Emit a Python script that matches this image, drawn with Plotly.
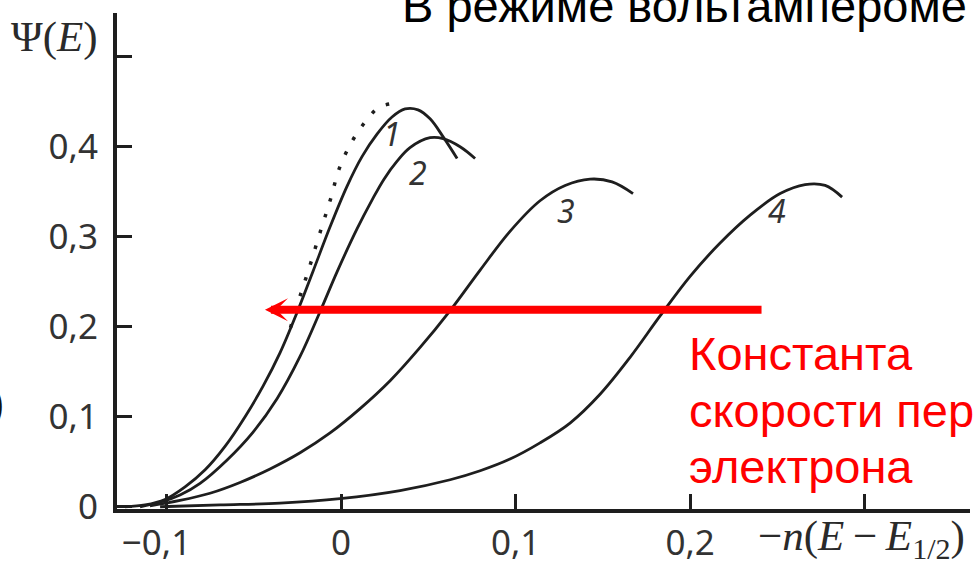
import plotly.graph_objects as go

# Ψ(E) against −n(E−E1/2) for four electron-transfer rate constants
x1 = [-0.1238, -0.1123, -0.1009, -0.0894, -0.0779, -0.0665, -0.0550, -0.0447, -0.0350,
      -0.0252, -0.0160, -0.0063, 0.0034, 0.0120, 0.0206, 0.0292, 0.0367, 0.0441, 0.0510,
      0.0585, 0.0665]
y1 = [0.000, 0.002, 0.008, 0.022, 0.041, 0.067, 0.100, 0.134, 0.171,
      0.216, 0.262, 0.311, 0.356, 0.389, 0.414, 0.433, 0.442, 0.441, 0.431,
      0.411, 0.387]

x2 = [-0.1152, -0.1037, -0.0923, -0.0808, -0.0653, -0.0504, -0.0367, -0.0235, -0.0120,
      -0.0023, 0.0092, 0.0178, 0.0246, 0.0321, 0.0395, 0.0510, 0.0585, 0.0682, 0.0768]
y2 = [0.000, 0.005, 0.013, 0.026, 0.052, 0.083, 0.120, 0.167, 0.217,
      0.261, 0.309, 0.341, 0.364, 0.384, 0.399, 0.410, 0.409, 0.400, 0.387]

x3 = [-0.1095, -0.0923, -0.0751, -0.0579, -0.0407, -0.0235, -0.0063, 0.0109, 0.0281,
      0.0453, 0.0625, 0.0797, 0.0968, 0.1140, 0.1284, 0.1427, 0.1553, 0.1673]
y3 = [0.001, 0.007, 0.015, 0.027, 0.042, 0.060, 0.082, 0.109, 0.140,
      0.177, 0.218, 0.263, 0.306, 0.340, 0.357, 0.364, 0.361, 0.348]

x4 = [-0.1037, -0.0693, -0.0350, -0.0006, 0.0338, 0.0625, 0.0797, 0.0968, 0.1140, 0.1312,
      0.1484, 0.1656, 0.1828, 0.2000, 0.2172, 0.2344, 0.2516, 0.2659, 0.2774, 0.2871]
y4 = [0.000, 0.002, 0.004, 0.009, 0.018, 0.030, 0.040, 0.053, 0.071, 0.093,
      0.125, 0.166, 0.212, 0.256, 0.293, 0.324, 0.348, 0.358, 0.357, 0.344]

# reversible limit (dotted)
x_rev = [-0.029, -0.024, -0.018, -0.012, -0.006, -0.001, 0.006, 0.014, 0.022, 0.034]
y_rev = [0.199, 0.231, 0.267, 0.305, 0.342, 0.376, 0.405, 0.428, 0.444, 0.449]

curve_names = ["1", "2", "3", "4"]
name_x = [0.029, 0.044, 0.129, 0.250]
name_y = [0.415, 0.371, 0.329, 0.329]

x_ticks = [-0.1, 0.0, 0.1, 0.2, 0.3]
x_tick_text = ["\u22120,1\u2007", "0", "0,1", "0,2", ""]
y_ticks = [0.0, 0.1, 0.2, 0.3, 0.4, 0.5]
y_tick_text = ["0", "0,1", "0,2", "0,3", "0,4", ""]

# red arrow along Ψ ≈ 0.22 pointing to lower potentials
arrow_tip = (-0.0436, 0.219)
arrow_tail = (0.2418, 0.219)

ink = "#1e1e1e"
red = "#ff0000"

fig = go.Figure()
for xs, ys in [(x1, y1), (x2, y2), (x3, y3), (x4, y4)]:
    fig.add_trace(go.Scatter(
        x=xs, y=ys, mode="lines",
        line=dict(color=ink, width=2.8, shape="spline", smoothing=1.0),
        hoverinfo="skip", showlegend=False))
fig.add_trace(go.Scatter(
    x=x_rev, y=y_rev, mode="lines",
    line=dict(color=ink, width=3.5, dash="3.5px,13px", shape="spline", smoothing=1.0),
    hoverinfo="skip", showlegend=False))

# plot-area pixel geometry
L, T, R, B = 117, 13, 3, 56
W, H = 973, 565
pw, ph = W - L - R, H - T - B


def px(xp):
    return (xp - L) / pw


def py(yp):
    return (H - B - yp) / ph


annotations = []
for name, xn, yn in zip(curve_names, name_x, name_y):
    annotations.append(dict(
        x=xn, y=yn, xref="x", yref="y", text=f"<i>{name}</i>", showarrow=False,
        font=dict(family="Noto Sans", size=32, color="#333333")))

annotations.append(dict(
    x=arrow_tip[0], y=arrow_tip[1], ax=arrow_tail[0], ay=arrow_tail[1],
    xref="x", yref="y", axref="x", ayref="y", text="", showarrow=True,
    arrowhead=3, arrowsize=0.48, arrowwidth=8, arrowcolor=red, standoff=0))

serif = "Liberation Serif"
annotations.append(dict(
    x=px(100), y=py(37), xref="paper", yref="paper", xanchor="right", yanchor="middle",
    text="\u03a8(<i>E</i>)", showarrow=False,
    font=dict(family=serif, size=43, color="#2a2a2a")))
annotations.append(dict(
    x=px(967), y=py(539), xref="paper", yref="paper", xanchor="right", yanchor="middle",
    text="\u2212<i>n</i>(<i>E</i>\u2009\u2212\u2009<i>E</i><sub>1/2</sub>)", showarrow=False,
    font=dict(family=serif, size=43, color="#2a2a2a")))

sans = "Liberation Sans"
annotations.append(dict(
    x=px(400), y=py(5.5), xref="paper", yref="paper", xanchor="left", yanchor="middle",
    text="В режиме вольтамперометрии", showarrow=False,
    font=dict(family=sans, size=47, color="#000000")))
for line_text, yc in [("Константа", 353.5), ("скорости переноса", 410.5), ("электрона", 466.5)]:
    annotations.append(dict(
        x=px(687), y=py(yc), xref="paper", yref="paper", xanchor="left", yanchor="middle",
        text=line_text, showarrow=False,
        font=dict(family=sans, size=47, color=red)))
annotations.append(dict(
    x=px(6.5), y=py(402.7), xref="paper", yref="paper", xanchor="right", yanchor="middle",
    text=")", showarrow=False,
    font=dict(family=sans, size=47, color="#111111")))

fig.update_layout(
    template="none",
    width=W, height=H,
    margin=dict(l=L, r=R, t=T, b=B),
    paper_bgcolor="white", plot_bgcolor="white",
    showlegend=False,
    annotations=annotations,
)
axis_style = dict(
    ticks="inside", ticklen=15, tickwidth=3, tickcolor=ink,
    showline=True, linewidth=4, linecolor=ink, mirror=False,
    showgrid=False, zeroline=False, automargin=False,
    tickfont=dict(family="Noto Sans", size=35, color="#333333"))
fig.update_xaxes(range=[-0.1284, 0.3604], tickvals=x_ticks, ticktext=x_tick_text,
                 ticklabelstandoff=0, **axis_style)
fig.update_yaxes(range=[-0.0025, 0.5486], tickvals=y_ticks, ticktext=y_tick_text,
                 ticklabelstandoff=8, **axis_style)

fig.write_html("out.html")
